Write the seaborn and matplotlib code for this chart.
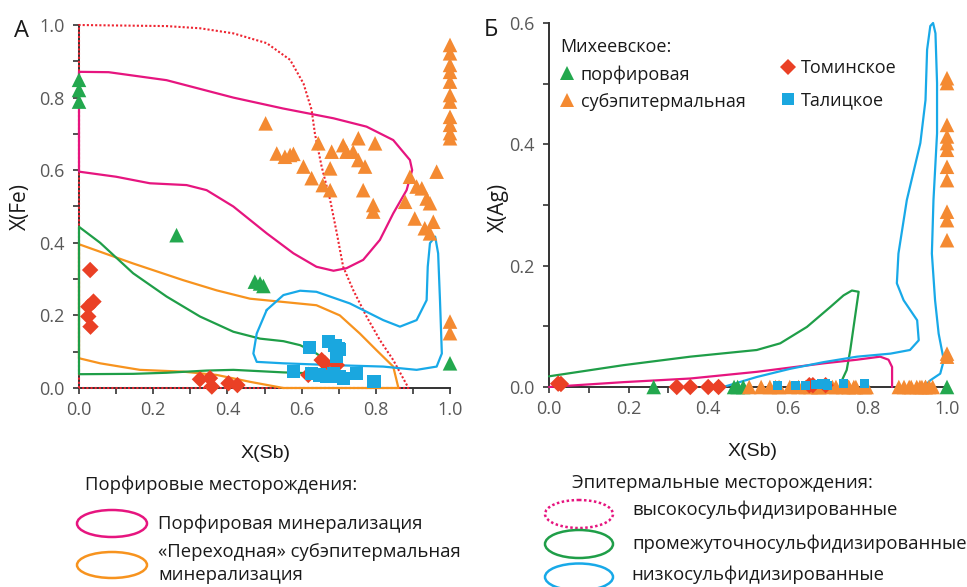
import numpy as np
import pandas as pd
import matplotlib
matplotlib.use("Agg")
import matplotlib.pyplot as plt
from matplotlib.patches import Ellipse
from matplotlib.lines import Line2D
from matplotlib.ticker import MultipleLocator, FormatStrFormatter
import seaborn as sns

# ---------------- data: panel A (X(Sb) vs X(Fe)) ----------------
por_sb = [0.0, 0.0, 0.0, 0.263, 0.474, 0.488, 0.497, 1.0]
por_fe = [0.849, 0.821, 0.789, 0.421, 0.293, 0.288, 0.281, 0.068]

sub_sb = [0.503, 0.533, 0.555, 0.569, 0.578, 0.605, 0.627, 0.645, 0.657, 0.677, 0.677,
          0.681, 0.712, 0.721, 0.739, 0.753, 0.753, 0.771, 0.766, 0.793, 0.793, 0.798,
          0.892, 0.91, 0.924, 0.937, 0.946, 0.879, 0.905, 0.932, 0.946, 0.955, 0.964,
          1.0, 1.0, 1.0, 1.0, 1.0, 1.0, 1.0, 1.0, 1.0, 1.0, 1.0, 1.0, 1.0]
sub_fe = [0.729, 0.646, 0.637, 0.642, 0.645, 0.61, 0.578, 0.674, 0.559, 0.605, 0.545,
          0.651, 0.669, 0.651, 0.651, 0.688, 0.628, 0.61, 0.545, 0.504, 0.486, 0.674,
          0.582, 0.555, 0.55, 0.522, 0.509, 0.513, 0.467, 0.44, 0.426, 0.458, 0.596,
          0.945, 0.922, 0.89, 0.871, 0.844, 0.807, 0.789, 0.747, 0.725, 0.702, 0.688,
          0.183, 0.151]

tom_sb = [0.03, 0.025, 0.039, 0.025, 0.031, 0.326, 0.353, 0.358, 0.403, 0.427,
          0.654, 0.663, 0.695, 0.618]
tom_fe = [0.325, 0.224, 0.238, 0.197, 0.169, 0.024, 0.027, 0.004, 0.013, 0.008,
          0.077, 0.068, 0.063, 0.036]

tal_sb = [0.621, 0.672, 0.69, 0.699, 0.703, 0.695, 0.578, 0.627, 0.649, 0.667,
          0.686, 0.703, 0.712, 0.747, 0.795]
tal_fe = [0.111, 0.128, 0.118, 0.109, 0.105, 0.086, 0.045, 0.040, 0.036, 0.031,
          0.040, 0.031, 0.027, 0.040, 0.017]

# field outlines, panel A
porph_field_sb = [0, 0.08, 0.236, 0.416, 0.55, 0.686, 0.775, 0.847, 0.892, 0.898, 0.883,
                  0.847, 0.811, 0.766, 0.721, 0.686, 0.64, 0.578, 0.506, 0.416, 0.344,
                  0.29, 0.191, 0.10, 0, 0]
porph_field_fe = [0.871, 0.87, 0.848, 0.80, 0.77, 0.743, 0.72, 0.683, 0.628, 0.60, 0.545,
                  0.481, 0.408, 0.353, 0.330, 0.323, 0.334, 0.371, 0.426, 0.50, 0.545,
                  0.559, 0.564, 0.582, 0.596, 0.871]

hs_field_sb = [0, 0, 0.236, 0.326, 0.416, 0.506, 0.569, 0.605, 0.627, 0.636, 0.654,
               0.677, 0.695, 0.712, 0.739, 0.775, 0.811, 0.847, 0.888, 0]
hs_field_fe = [0, 1.0, 0.997, 0.991, 0.977, 0.95, 0.904, 0.839, 0.766, 0.70, 0.61,
               0.518, 0.426, 0.334, 0.27, 0.197, 0.132, 0.077, 0.0, 0]

is_field_sb = [0, 0.057, 0.146, 0.236, 0.326, 0.416, 0.488, 0.551, 0.596, 0.64, 0.677,
               0.695, 0.64, 0.551, 0.416, 0.344, 0.236, 0.146, 0, 0]
is_field_fe = [0.444, 0.40, 0.316, 0.252, 0.197, 0.155, 0.136, 0.129, 0.118, 0.095, 0.068,
               0.049, 0.040, 0.043, 0.05, 0.048, 0.042, 0.039, 0.038, 0.444]

tr_field_sb = [0, 0.146, 0.281, 0.371, 0.461, 0.551, 0.64, 0.703, 0.757, 0.802, 0.847,
               0.861, 0.551, 0.461, 0.371, 0.281, 0.164, 0.057, 0, 0]
tr_field_fe = [0.396, 0.343, 0.297, 0.269, 0.246, 0.237, 0.228, 0.20, 0.15, 0.104, 0.059,
               0.0, 0.0, 0.017, 0.036, 0.045, 0.05, 0.068, 0.082, 0.396]

ls_field_sb = [0.506, 0.551, 0.596, 0.64, 0.73, 0.82, 0.865, 0.91, 0.937, 0.94, 0.946,
               0.96, 0.968, 0.973, 0.978, 0.964, 0.91, 0.82, 0.686, 0.551, 0.479, 0.47,
               0.479, 0.506]
ls_field_fe = [0.215, 0.256, 0.268, 0.265, 0.233, 0.187, 0.169, 0.187, 0.242, 0.334, 0.399,
               0.417, 0.371, 0.242, 0.095, 0.059, 0.05, 0.059, 0.063, 0.068, 0.072, 0.095,
               0.15, 0.215]

# ---------------- data: panel Б (X(Sb) vs X(Ag)) ----------------
por_sb_b = [0.263, 0.465, 0.474, 0.488, 1.0]
por_ag = [0.0, 0.0, 0.0, 0.0, 0.0]

sub_sb_b = sub_sb[:33] + [1.0] * 13
sub_ag = [0.0] * 33 + [0.509, 0.501, 0.432, 0.413, 0.402, 0.391, 0.363, 0.341,
                       0.289, 0.275, 0.242, 0.055, 0.05]

tom_sb_b = [0.023, 0.03, 0.321, 0.355, 0.40, 0.426, 0.654, 0.663, 0.695]
tom_ag = [0.0055, 0.005, 0.0, 0.0, 0.0, 0.0, 0.003, 0.003, 0.003]

tal_sb_b = [0.574, 0.619, 0.644, 0.669, 0.686, 0.695, 0.70, 0.74, 0.792]
tal_ag = [0.003, 0.003, 0.003, 0.004, 0.005, 0.005, 0.002, 0.006, 0.006]

is_field_sb_b = [0, 0.187, 0.355, 0.522, 0.581, 0.648, 0.707, 0.74, 0.761, 0.778, 0.769,
                 0.757, 0.748, 0.736, 0.732]
is_field_ag = [0.0176, 0.036, 0.05, 0.061, 0.072, 0.099, 0.132, 0.151, 0.159, 0.157, 0.116,
               0.061, 0.028, 0.011, 0.0]

porph_field_sb_b = [0.0, 0.187, 0.355, 0.522, 0.69, 0.774, 0.832, 0.853, 0.862, 0.862]
porph_field_ag = [0.0, 0.008, 0.014, 0.025, 0.039, 0.045, 0.05, 0.045, 0.033, 0.0]

ls_field_sb_b = [0.438, 0.522, 0.606, 0.69, 0.774, 0.858, 0.907, 0.929, 0.925, 0.891, 0.874,
                 0.878, 0.899, 0.933, 0.946, 0.95, 0.958, 0.965, 0.971, 0.975, 0.975, 0.966,
                 0.962, 0.97, 0.979, 0.992, 0.983, 0.958, 0.941]
ls_field_ag = [0.0, 0.0165, 0.030, 0.041, 0.05, 0.055, 0.061, 0.077, 0.11, 0.143, 0.171,
               0.22, 0.308, 0.402, 0.473, 0.556, 0.595, 0.60, 0.583, 0.501, 0.418, 0.308,
               0.22, 0.143, 0.088, 0.044, 0.022, 0.011, 0.0]

# ---------------- styling ----------------
sns.set_style("ticks")
plt.rcParams['font.family'] = ['Open Sans', 'DejaVu Sans']

C_GREEN = '#23a84e'
C_ORANGE = '#f48a32'
C_RED = '#ea4025'
C_BLUE = '#1aa7df'
L_MAG = '#e6157f'
L_ORANGE = '#f7931e'
L_GREEN = '#1f9e48'
L_CYAN = '#18a9e8'
L_RED = '#ee2531'
TICK_C = '#595959'
TXT = '#1a1a1a'
ARIAL = ['Liberation Sans', 'DejaVu Sans']

fig = plt.figure(figsize=(9.67, 5.87), dpi=100)
axA = fig.add_axes([79 / 967, 1 - 388 / 587, 371 / 967, 363 / 587])
axB = fig.add_axes([549 / 967, 1 - 387 / 587, 398 / 967, 364 / 587])


def field(ax, xs, ys, color, ls='-', lw=1.6):
    sns.lineplot(x=xs, y=ys, sort=False, estimator=None, color=color, lw=lw,
                 linestyle=ls, ax=ax, clip_on=False, zorder=2)


def points(ax, xs, ys, marker, color, s):
    sns.scatterplot(x=xs, y=ys, marker=marker, color=color, s=s, edgecolor='none',
                    linewidth=0, ax=ax, clip_on=False, zorder=3)


# panel A
field(axA, hs_field_sb, hs_field_fe, L_RED, ls=(0, (1, 1)), lw=1.5)
field(axA, porph_field_sb, porph_field_fe, L_MAG)
field(axA, tr_field_sb, tr_field_fe, L_ORANGE)
field(axA, is_field_sb, is_field_fe, L_GREEN)
field(axA, ls_field_sb, ls_field_fe, L_CYAN)
points(axA, por_sb, por_fe, '^', C_GREEN, 110)
points(axA, sub_sb, sub_fe, '^', C_ORANGE, 110)
points(axA, tom_sb, tom_fe, 'D', C_RED, 70)
points(axA, tal_sb, tal_fe, 's', C_BLUE, 90)
axA.set_xlim(0, 1)
axA.set_ylim(0, 1)

# panel Б
field(axB, is_field_sb_b, is_field_ag, L_GREEN)
field(axB, porph_field_sb_b, porph_field_ag, L_MAG)
field(axB, ls_field_sb_b, ls_field_ag, L_CYAN)
points(axB, por_sb_b, por_ag, '^', C_GREEN, 110)
points(axB, sub_sb_b, sub_ag, '^', C_ORANGE, 110)
points(axB, tom_sb_b, tom_ag, 'D', C_RED, 70)
points(axB, tal_sb_b, tal_ag, 's', C_BLUE, 45)
axB.set_xlim(0, 1)
axB.set_ylim(0, 0.6)

for ax in (axA, axB):
    sns.despine(ax=ax)
    for sp in ('left', 'bottom'):
        ax.spines[sp].set_color('#333333')
        ax.spines[sp].set_linewidth(1.4)
        ax.spines[sp].set_zorder(1)
    ax.xaxis.set_major_locator(MultipleLocator(0.2))
    ax.xaxis.set_minor_locator(MultipleLocator(0.1))
    ax.yaxis.set_major_locator(MultipleLocator(0.2))
    ax.yaxis.set_minor_locator(MultipleLocator(0.1))
    ax.tick_params(which='both', direction='out', length=4.5, width=1.2, color='#333333',
                   labelsize=13, labelcolor=TICK_C)
    ax.tick_params(axis='x', which='both', pad=5)
    ax.tick_params(axis='y', which='both', pad=6)
    ax.xaxis.set_major_formatter(FormatStrFormatter('%.1f'))
    ax.yaxis.set_major_formatter(FormatStrFormatter('%.1f'))
    ax.set_xlabel('X(Sb)', fontsize=14, family=ARIAL, color=TXT, va='center', ha='center')
    ax.set_facecolor('none')

axA.set_ylabel('X(Fe)', fontsize=15, color=TXT, va='center', ha='center')
axB.set_ylabel('X(Ag)', fontsize=15, color=TXT, va='center', ha='center')
axA.xaxis.set_label_coords((266 - 79) / 371, (388 - 453) / 363)
axB.xaxis.set_label_coords((753 - 549) / 398, (387 - 452) / 364)
axA.yaxis.set_label_coords((20 - 79) / 371, (388 - 207) / 363)
axB.yaxis.set_label_coords((498 - 549) / 398, (387 - 207) / 364)

# legend in panel Б
h1 = [Line2D([], [], marker='^', ls='none', color=C_GREEN, markersize=10.5, markeredgewidth=0),
      Line2D([], [], marker='^', ls='none', color=C_ORANGE, markersize=10.5, markeredgewidth=0)]
leg1 = axB.legend(h1, ['порфировая', 'субэпитермальная'], title='Михеевское:',
                  loc='upper left', bbox_to_anchor=((560 - 549) / 398, (387 - 38) / 364),
                  frameon=False, fontsize=13, title_fontsize=13, handlelength=0.8,
                  handletextpad=0.35, labelspacing=0.5, borderpad=0, borderaxespad=0,
                  alignment='left')
for t in leg1.get_texts():
    t.set_color(TXT)
leg1.get_title().set_color(TXT)
axB.add_artist(leg1)
h2 = [Line2D([], [], marker='D', ls='none', color=C_RED, markersize=8.5, markeredgewidth=0),
      Line2D([], [], marker='s', ls='none', color=C_BLUE, markersize=8, markeredgewidth=0)]
leg2 = axB.legend(h2, ['Томинское', 'Талицкое'], loc='upper left',
                  bbox_to_anchor=((781 - 549) / 398, (387 - 59) / 364),
                  frameon=False, fontsize=13, handlelength=0.8, handletextpad=0.3,
                  labelspacing=0.8, borderpad=0, borderaxespad=0)
for t in leg2.get_texts():
    t.set_color(TXT)

# overlay for panel letters and the bottom legend of fields
ov = fig.add_axes([0, 0, 1, 1])
ov.set_xlim(0, 967)
ov.set_ylim(587, 0)
ov.axis('off')
ov.text(21, 31, 'А', fontsize=17, ha='center', va='center', color=TXT)
ov.text(491, 30, 'Б', fontsize=17, ha='center', va='center', color=TXT)

FS = 13.3
ov.text(85, 485, 'Порфировые месторождения:', fontsize=FS, ha='left', va='center', color=TXT)
ov.text(158, 524, 'Порфировая минерализация', fontsize=FS, ha='left', va='center', color=TXT)
ov.text(158, 552, '«Переходная» субэпитермальная', fontsize=FS, ha='left', va='center', color=TXT)
ov.text(158, 575, 'минерализация', fontsize=FS, ha='left', va='center', color=TXT)
ov.add_patch(Ellipse((112, 523.5), 70, 27, fill=False, ec=L_MAG, lw=1.8))
ov.add_patch(Ellipse((112, 565), 70, 26, fill=False, ec=L_ORANGE, lw=1.8))

ov.text(572, 483, 'Эпитермальные месторождения:', fontsize=FS, ha='left', va='center', color=TXT)
ov.text(632, 510, 'высокосульфидизированные', fontsize=FS, ha='left', va='center', color=TXT)
ov.text(632, 544, 'промежуточносульфидизированные', fontsize=FS, ha='left', va='center', color=TXT)
ov.text(631, 575, 'низкосульфидизированные', fontsize=FS, ha='left', va='center', color=TXT)
ov.add_patch(Ellipse((579, 514), 68, 28, fill=False, ec=L_MAG, lw=1.8, ls=(0, (1, 1))))
ov.add_patch(Ellipse((579, 544), 68, 28, fill=False, ec=L_GREEN, lw=1.8))
ov.add_patch(Ellipse((579, 577), 68, 27, fill=False, ec=L_CYAN, lw=1.8))

fig.savefig('out.png', dpi=100)
